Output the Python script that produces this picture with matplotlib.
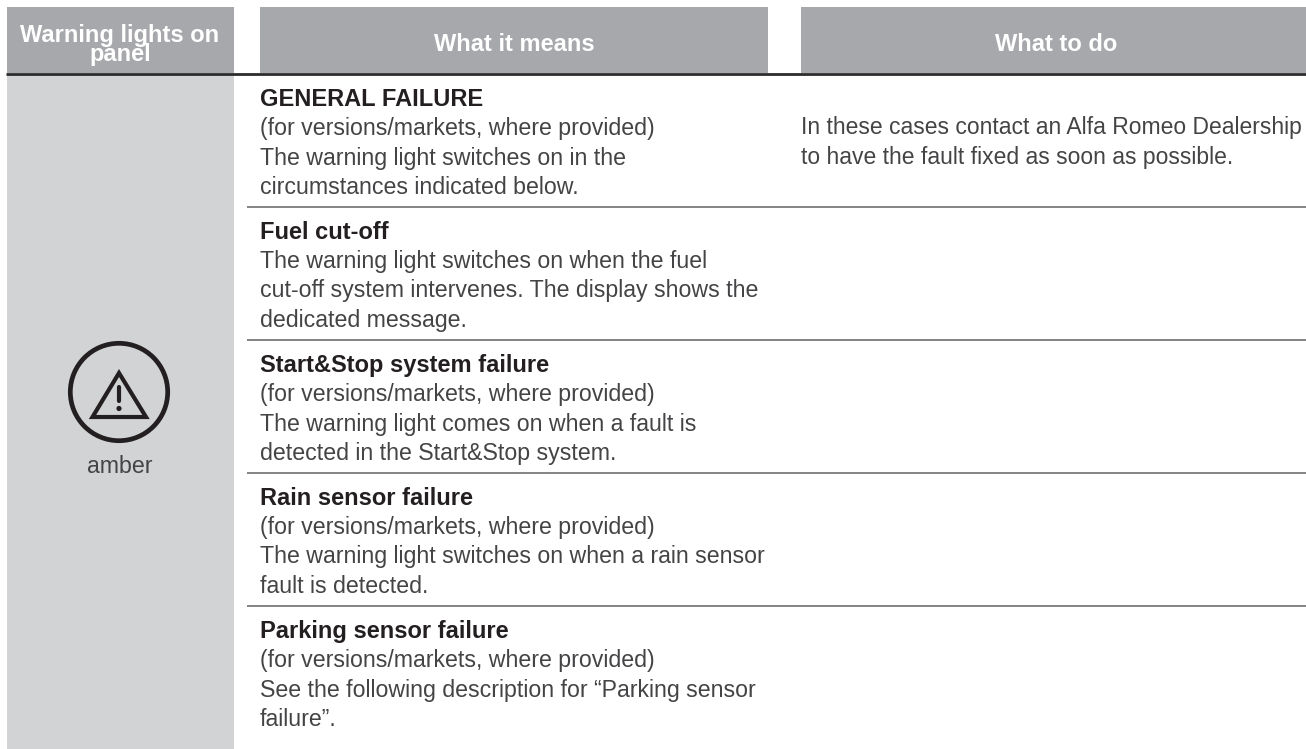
import numpy as np
import matplotlib
matplotlib.use('Agg')
import matplotlib.pyplot as plt
from matplotlib.patches import Rectangle, Circle, Polygon

W, H = 1306, 749

header_labels = ['Warning lights on\npanel', 'What it means', 'What to do']
row_titles = ['GENERAL FAILURE', 'Fuel cut-off', 'Start&Stop system failure',
              'Rain sensor failure', 'Parking sensor failure']
row_bodies = [
    ['(for versions/markets, where provided)', 'The warning light switches on in the', 'circumstances indicated below.'],
    ['The warning light switches on when the fuel', 'cut-off system intervenes. The display shows the', 'dedicated message.'],
    ['(for versions/markets, where provided)', 'The warning light comes on when a fault is', 'detected in the Start&Stop system.'],
    ['(for versions/markets, where provided)', 'The warning light switches on when a rain sensor', 'fault is detected.'],
    ['(for versions/markets, where provided)', 'See the following description for \u201cParking sensor', 'failure\u201d.'],
]
todo_lines = ['In these cases contact an Alfa Romeo Dealership', 'to have the fault fixed as soon as possible.']

# baselines in picture pixels
row_title_y = [106, 239, 372, 505, 638]
body_offsets = [29, 58.5, 88]
row_sep_y = [207, 340, 473, 606]

HEAD = '#a7a8ab'
CELL = '#d1d3d4'
INK = '#444446'
DARK = '#231f20'
BODY = 16.7
BOLD = 17

plt.rcParams['font.family'] = ['Liberation Sans', 'DejaVu Sans']

fig = plt.figure(figsize=(W / 100, H / 100), dpi=100)
ax = fig.add_axes([0, 0, 1, 1])
ax.set_xlim(0, W)
ax.set_ylim(H, 0)
ax.axis('off')

# header blocks
ax.add_patch(Rectangle((7, 7), 227, 66, color=HEAD, lw=0))
ax.add_patch(Rectangle((260, 7), 508, 66, color=HEAD, lw=0))
ax.add_patch(Rectangle((801, 7), 505, 66, color=HEAD, lw=0))
ax.add_patch(Rectangle((7, 75), 227, H - 75, color=CELL, lw=0))
ax.plot([6, W], [73.8, 73.8], color='#2b2b2d', lw=2.0, solid_capstyle='butt')

ax.text(120, 45, header_labels[0], color='white', fontsize=BOLD, fontweight='bold',
        ha='center', va='center', multialignment='center', linespacing=0.82)
ax.text(514, 51, header_labels[1], color='white', fontsize=BOLD, fontweight='bold', ha='center', va='baseline')
ax.text(1056, 51, header_labels[2], color='white', fontsize=BOLD, fontweight='bold', ha='center', va='baseline')

# rows
for i, title in enumerate(row_titles):
    y = row_title_y[i]
    ax.text(260, y, title, color=DARK, fontsize=BOLD, fontweight='bold', va='baseline')
    for j, line in enumerate(row_bodies[i]):
        ax.text(260, y + body_offsets[j], line, color=INK, fontsize=BODY, va='baseline')
for y in row_sep_y:
    ax.plot([247, W], [y, y], color='#6d6e71', lw=1.2, solid_capstyle='butt')

for j, line in enumerate(todo_lines):
    ax.text(801, 134 + 30 * j, line, color=INK, fontsize=16.5, va='baseline')

# warning icon
ax.add_patch(Circle((119, 392), 48.7, fill=False, ec=DARK, lw=3.4))
ax.add_patch(Polygon([(119, 373), (92.5, 417), (146, 417)], closed=True, fill=False, ec=DARK, lw=3.0, joinstyle='miter'))
ax.plot([119, 119], [386.5, 401], color=DARK, lw=3.0, solid_capstyle='round')
ax.add_patch(Circle((119, 408.5), 2.6, color=DARK, lw=0))
ax.text(120, 473, 'amber', color=INK, fontsize=BODY, ha='center', va='baseline')

fig.savefig('out.png', dpi=100)
